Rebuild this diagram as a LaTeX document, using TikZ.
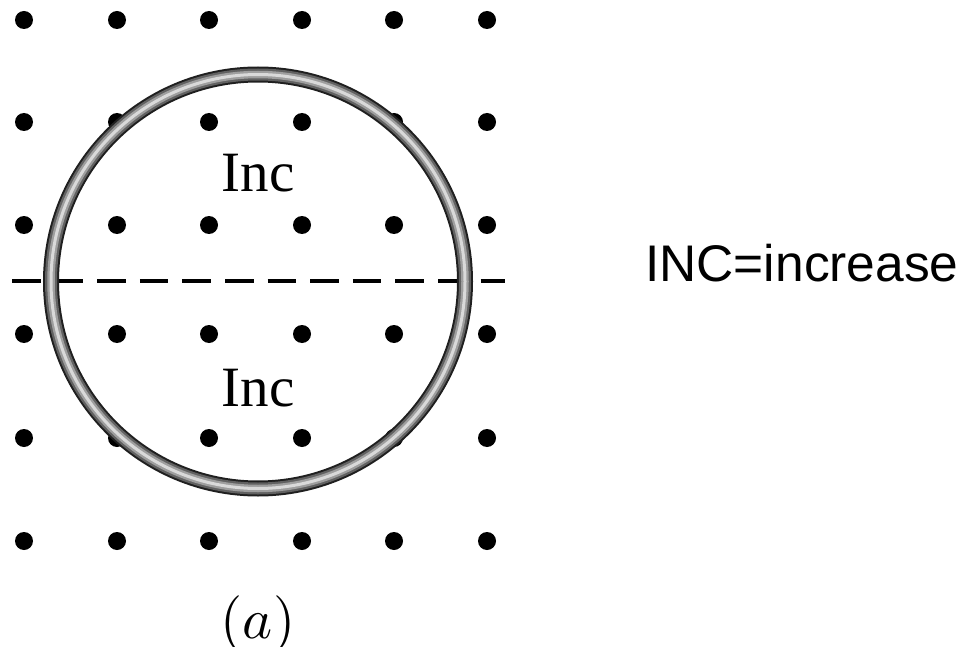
\documentclass[tikz,border=0pt]{standalone}
\usepackage{fontspec}
\setmainfont{Liberation Serif}
\newfontfamily\labelsans{Liberation Sans}
\begin{document}
\begin{tikzpicture}[x=1pt,y=-1pt,
  fielddot/.style={circle,fill=black,inner sep=0pt,minimum size=18pt},
  inclabel/.style={anchor=base,inner sep=0pt,font=\fontsize{57}{60}\selectfont},
  cutline/.style={line width=3.2pt,dash pattern=on 28.5pt off 14.1pt}]
\useasboundingbox (0,0) rectangle (966,647);
% field dots (out of page)
\foreach \r/\y in {1/20,2/122,3/225,4/334,5/438,6/541}{
  \foreach \c/\x in {1/24,2/117,3/209,4/302,5/394,6/487}{
    \node[fielddot] (d\r\c) at (\x,\y) {};
  }
}
% dashed line
\coordinate (la) at (12,281);
\coordinate (lb) at (505,281);
\draw[cutline] (la) -- (lb);
% ring (tube look)
\coordinate (ctr) at (258,281.5);
\draw[line width=16pt,black!88] (ctr) circle[radius=207];
\draw[line width=12pt,black!62] (ctr) circle[radius=207];
\draw[line width=7.5pt,black!38] (ctr) circle[radius=207];
\draw[line width=3pt,black!15] (ctr) circle[radius=207];
% labels
\node[inclabel] (inc1) at (258,192) {Inc};
\node[inclabel] (inc2) at (258,406) {Inc};
\node[anchor=base,inner sep=0pt] (cap) at (258,638) {\scalebox{5.7}{$(a)$}};
\node[anchor=base west,inner sep=0pt,font=\labelsans\fontsize{51.5}{56}\selectfont] (note) at (645,281) {INC=increase};
\end{tikzpicture}
\end{document}
